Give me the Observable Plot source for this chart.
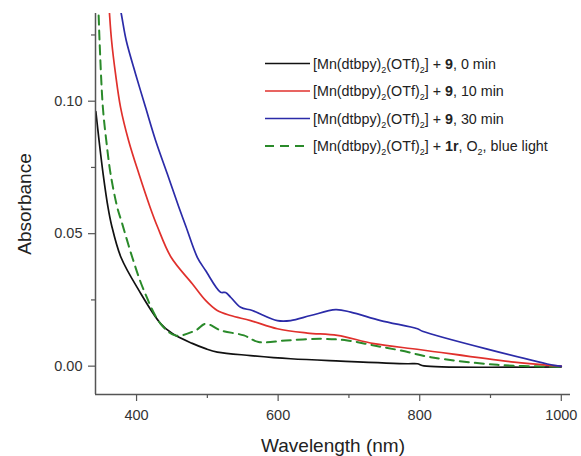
<!DOCTYPE html>
<html><head><meta charset="utf-8">
<script src="https://cdn.jsdelivr.net/npm/d3@7"></script>
<script src="https://cdn.jsdelivr.net/npm/@observablehq/plot@0.6"></script>
<style>
body{margin:0;background:#fff}
svg{font-family:"Liberation Sans",Arial,Helvetica,sans-serif}
</style>
</head><body><div id="chart"></div>
<script>
// 0 min (black)
const wl0 = [342.5,347.0,352.7,359.7,364.7,378.1,403.3,433.9,450.5,478.7,497.5,514.1,561.1,617.7,688.3,782.6,796.7,806,933.3,1000];
const abs0 = [0.0961,0.0852,0.0727,0.0599,0.0532,0.0410,0.0286,0.0161,0.0123,0.0086,0.0066,0.0053,0.0040,0.0028,0.0019,0.0009,0.0009,0.0001,-0.0004,-0.0003];
// 10 min (red)
const wl10 = [358,361.8,364.7,370.3,377.4,388.7,403.3,419.1,429.7,448.8,478.7,497.5,514,532.9,561.1,598.9,641.3,683.7,735.4,801.4,933.3,989,1000];
const abs10 = [0.15,0.133,0.1229,0.1103,0.0977,0.0852,0.0726,0.0600,0.0525,0.0411,0.0311,0.0248,0.0210,0.0191,0.0172,0.0141,0.0125,0.0116,0.0085,0.0062,0.0015,0.0002,0];
// 30 min (blue)
const wl30 = [371.7,378.4,385.4,398.6,412.7,426.9,443.4,459.8,470.0,485.8,497.5,518.7,525.8,532.9,547,563.5,598.9,617.7,645.9,681.3,702.5,744.9,796.8,803.8,989.8,1000];
const abs30 = [0.1418,0.133,0.1229,0.1103,0.0977,0.0852,0.0726,0.0600,0.0525,0.0411,0.0361,0.0279,0.0278,0.0260,0.0222,0.0210,0.0172,0.0172,0.0191,0.0213,0.0204,0.0172,0.0141,0.0132,0.0003,0];
// 1r, O2, blue light (green dashed)
const wlG = [345.6,346.7,347.7,352.4,357.2,363.3,372.7,379.8,393.9,410.3,433.9,455.1,483.4,497.5,518.7,551.7,572.4,610.6,660,697.8,735.4,773.1,815.5,909.8,1000];
const absG = [0.138,0.1305,0.1229,0.0977,0.0852,0.0726,0.0600,0.0537,0.0411,0.0286,0.0160,0.0116,0.0135,0.0160,0.0135,0.0116,0.0091,0.0097,0.0103,0.0097,0.0078,0.0059,0.0034,0.0005,-0.0002];

const xMajor = [400,600,800,1000];
const xMinor = [500,700,900];
const yMajor = [0.00,0.05,0.10];
const yMinor = [0.025,0.075,0.125];
const xDomain = [342,1013];
const yDomain = [-0.0107,0.1331];

const colors = ["#111111","#e0302c","#2b2ba8","#2a8a2a"];
const toRows = (w,a) => w.map((v,i)=>({wl:v, abs:a[i]}));
const rows0 = toRows(wl0,abs0), rows10 = toRows(wl10,abs10), rows30 = toRows(wl30,abs30), rowsG = toRows(wlG,absG);

const axisFont = 14.5;
const crv = "catmull-rom";
const plot = Plot.plot({
  width: 581, height: 456,
  marginLeft: 95, marginRight: 11, marginTop: 13, marginBottom: 62,
  x: {domain: xDomain},
  y: {domain: yDomain},
  style: {fontFamily: '"Liberation Sans",Arial,sans-serif', color: "#333"},
  marks: [
    Plot.line(rows0, {x:"wl", y:"abs", stroke: colors[0], strokeWidth: 1.7, curve: crv, clip: true}),
    Plot.line(rowsG, {x:"wl", y:"abs", stroke: colors[3], strokeWidth: 2, strokeDasharray: "9,6", curve: crv, clip: true}),
    Plot.line(rows10, {x:"wl", y:"abs", stroke: colors[1], strokeWidth: 1.7, curve: crv, clip: true}),
    Plot.line(rows30, {x:"wl", y:"abs", stroke: colors[2], strokeWidth: 1.7, curve: crv, clip: true}),
    Plot.ruleX([xDomain[0]], {stroke: "#555", strokeWidth: 1.5}),
    Plot.ruleY([yDomain[0]], {stroke: "#555", strokeWidth: 1.5}),
    Plot.axisX({ticks: xMajor, tickSize: 7, tickPadding: 8, fontSize: axisFont, stroke: "#555", strokeWidth: 1.2,
      tickFormat: d => String(d),
      label: "Wavelength (nm)", labelArrow: "none", labelAnchor: "center", labelOffset: 57}),
    Plot.axisX({ticks: xMinor, tickSize: 4, tickFormat: () => "", stroke: "#555", strokeWidth: 1.2, label: null}),
    Plot.axisY({ticks: yMajor, tickSize: 7, tickPadding: 6, fontSize: axisFont, stroke: "#555", strokeWidth: 1.2,
      tickFormat: d3.format(".2f"), label: "Absorbance", labelArrow: "none", labelAnchor: "center", labelOffset: 78}),
    Plot.axisY({ticks: yMinor, tickSize: 4, tickFormat: () => "", stroke: "#555", strokeWidth: 1.2, label: null})
  ]
});
document.getElementById("chart").appendChild(plot);

// axis label font size
d3.select(plot).selectAll("g[aria-label='x-axis label'] text, g[aria-label='y-axis label'] text")
  .style("font-size","19px").attr("fill","#222");

// legend
const legendLabels = [
  [["[Mn(dtbpy)"],["2","sub"],["(OTf)"],["2","sub"],["] + "],["9","b"],[", 0 min"]],
  [["[Mn(dtbpy)"],["2","sub"],["(OTf)"],["2","sub"],["] + "],["9","b"],[", 10 min"]],
  [["[Mn(dtbpy)"],["2","sub"],["(OTf)"],["2","sub"],["] + "],["9","b"],[", 30 min"]],
  [["[Mn(dtbpy)"],["2","sub"],["(OTf)"],["2","sub"],["] + "],["1r","b"],[", O"],["2","sub"],[", blue light"]]
];
const legendDash = [null,null,null,"9,6"];
const svg = d3.select(plot);
const lg = svg.append("g").attr("class","legend").attr("text-anchor","start");
legendLabels.forEach((parts,i)=>{
  const y = 63.5 + i*27.5;
  lg.append("line").attr("x1",265).attr("x2",310).attr("y1",y).attr("y2",y)
    .attr("stroke",colors[i]).attr("stroke-width", i===3?2:1.7)
    .attr("stroke-dasharray", legendDash[i]);
  const t = lg.append("text").attr("x",313).attr("y",y+5).attr("font-size",14.3)
    .attr("fill","#222").attr("text-anchor","start");
  let prevSub = false;
  parts.forEach(([s,kind])=>{
    const ts = t.append("tspan").text(s);
    if (kind==="sub") { ts.attr("font-size",9).attr("dy",4); }
    else if (prevSub) { ts.attr("dy",-4); }
    if (kind==="b") { ts.attr("font-weight","bold"); }
    prevSub = kind==="sub";
  });
});
</script>
</body></html>
